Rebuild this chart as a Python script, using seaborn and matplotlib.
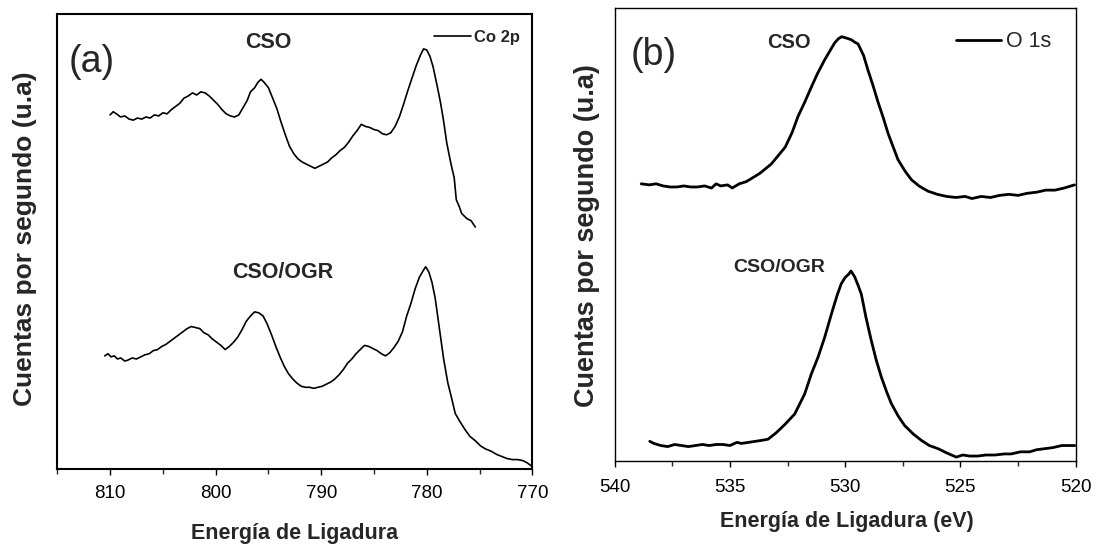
import numpy as np
import pandas as pd
import matplotlib
matplotlib.use("Agg")
import matplotlib.pyplot as plt
from matplotlib import font_manager
from matplotlib.ticker import MultipleLocator
import seaborn as sns

# ---------------- data (a.u.) ----------------
co_cso_e = [810.0, 809.7, 809.4, 809.0, 808.6, 808.2, 807.8, 807.4, 807.0, 806.6, 806.2, 805.8, 805.4,
            805.0, 804.6, 804.2, 803.8, 803.4, 803.0, 802.6, 802.2, 801.8, 801.4, 801.0, 800.6, 800.2,
            799.8, 799.4, 799.0, 798.6, 798.2, 797.8, 797.4, 797.0, 796.7, 796.3, 796.0, 795.7, 795.4,
            795.0, 794.6, 794.2, 793.8, 793.4, 793.0, 792.6, 792.2, 791.8, 791.4, 791.0, 790.6, 790.2,
            789.8, 789.4, 789.0, 788.6, 788.2, 787.8, 787.4, 787.0, 786.6, 786.2, 785.8, 785.4, 785.0,
            784.6, 784.2, 783.8, 783.4, 783.0, 782.6, 782.2, 781.8, 781.4, 781.0, 780.6, 780.3, 780.0,
            779.7, 779.4, 779.0, 778.7, 778.4, 778.1, 777.7, 777.4, 777.2, 776.9, 776.7, 776.4, 776.2,
            775.8, 775.4]
co_cso_i = [338, 341, 339, 336, 337, 334, 333, 335, 334, 336, 335, 338, 337,
            340, 339, 343, 346, 349, 354, 356, 359, 357, 360, 359, 356, 352,
            348, 343, 339, 337, 336, 338, 345, 352, 360, 364, 369, 372, 369,
            364, 354, 344, 331, 319, 308, 301, 296, 293, 291, 289, 287, 289,
            291, 293, 297, 300, 304, 307, 312, 318, 323, 329, 327, 326, 324,
            323, 320, 319, 321, 327, 336, 348, 361, 373, 385, 395, 401, 400,
            394, 384, 365, 350, 332, 311, 291, 278, 257, 250, 244, 241, 239,
            237, 231]

co_ogr_e = [810.5, 810.2, 809.9, 809.6, 809.3, 809.0, 808.6, 808.3, 807.9, 807.5, 807.1, 806.7, 806.3,
            805.9, 805.5, 805.1, 804.7, 804.3, 803.9, 803.5, 803.1, 802.7, 802.3, 801.9, 801.5, 801.1,
            800.7, 800.3, 799.9, 799.5, 799.1, 798.7, 798.3, 797.9, 797.5, 797.1, 796.7, 796.3, 795.9,
            795.5, 795.1, 794.7, 794.3, 793.9, 793.5, 793.1, 792.7, 792.3, 791.9, 791.5, 791.1, 790.7,
            790.3, 789.9, 789.5, 789.1, 788.7, 788.3, 787.9, 787.5, 787.1, 786.7, 786.3, 785.9, 785.5,
            785.1, 784.7, 784.3, 783.9, 783.5, 783.1, 782.7, 782.3, 781.9, 781.5, 781.1, 780.7, 780.3,
            780.1, 779.8, 779.5, 779.2, 778.8, 778.4, 778.0, 777.7, 777.3, 776.9, 776.4, 775.9, 775.4,
            774.9, 774.4, 773.9, 773.4, 772.9, 772.4, 771.9, 771.4, 770.9, 770.5, 770.1]
co_ogr_i = [108, 110, 107, 108, 105, 106, 103, 104, 106, 105, 107, 109, 110,
            113, 114, 117, 119, 122, 125, 128, 131, 134, 136, 135, 134, 130,
            128, 124, 121, 118, 114, 117, 121, 126, 133, 141, 146, 150, 149,
            146, 138, 128, 117, 107, 98, 91, 86, 82, 79, 78, 78, 77,
            78, 79, 81, 83, 86, 90, 95, 101, 105, 110, 114, 118, 117,
            115, 113, 110, 108, 111, 116, 122, 131, 146, 158, 172, 183, 190,
            193, 188, 178, 163, 134, 105, 82, 70, 53, 46, 38, 31, 27,
            22, 19, 17, 14, 12, 10, 9, 9, 8, 6, 3]

o_cso_e = [538.85, 538.5, 538.2, 537.9, 537.6, 537.3, 537.0, 536.7, 536.4, 536.1, 535.8, 535.6, 535.4,
           535.1, 534.9, 534.6, 534.3, 534.07, 533.7, 533.2, 532.9, 532.6, 532.3, 532.05, 531.75, 531.47,
           531.2, 530.89, 530.65, 530.46, 530.3, 530.15, 530.0, 529.85, 529.73, 529.6, 529.44, 529.2,
           529.01, 528.8, 528.58, 528.35, 528.14, 527.9, 527.71, 527.4, 527.13, 526.8, 526.41, 526.0,
           525.6, 525.2, 524.8, 524.5, 524.1, 523.7, 523.3, 522.9, 522.5, 522.1, 521.7, 521.3, 520.9,
           520.5, 520.05]
o_cso_i = [264, 263, 264, 262, 261, 261, 262, 261, 261, 262, 260, 264, 262,
           263, 260, 264, 266, 269, 274, 283, 291, 299, 313, 328, 342, 356,
           369, 382, 391, 398, 402, 404, 403, 402, 401, 399, 397, 386,
           372, 358, 342, 327, 312, 298, 287, 276, 268, 262, 257, 254,
           252, 251, 252, 250, 252, 251, 253, 254, 253, 255, 256, 258, 258,
           260, 263]

o_ogr_e = [538.48, 538.3, 538.0, 537.7, 537.4, 537.1, 536.8, 536.5, 536.2, 535.9, 535.6, 535.3, 535.0,
           534.7, 534.5, 534.2, 533.9, 533.6, 533.35, 533.0, 532.62, 532.19, 531.76, 531.47, 531.18,
           530.89, 530.6, 530.35, 530.17, 530.0, 529.85, 529.75, 529.6, 529.45, 529.3, 529.1, 528.87,
           528.65, 528.43, 528.2, 528.0, 527.7, 527.42, 527.05, 526.7, 526.35, 525.97, 525.6, 525.18,
           524.9, 524.6, 524.24, 523.9, 523.5, 523.1, 522.8, 522.4, 522.0, 521.7, 521.35, 521.0, 520.6,
           520.3, 520.04]
o_ogr_i = [19, 17, 15, 14, 16, 15, 14, 15, 16, 15, 16, 16, 15,
           18, 17, 18, 19, 20, 21, 27, 35, 45, 64, 83, 99,
           118, 140, 158, 169, 175, 178, 181, 176, 168, 159, 137, 115,
           96, 80, 66, 55, 43, 34, 26, 20, 15, 12, 8, 4,
           6, 5, 5, 6, 6, 7, 7, 9, 9, 11, 12, 13, 15,
           15, 15]

co_xticks = [810, 800, 790, 780, 770]
o_xticks = [540, 535, 530, 525, 520]

# ---------------- style ----------------
sns.set_style("ticks")
names = {f.name for f in font_manager.fontManager.ttflist}
HAS_NARROW = "Liberation Sans Narrow" in names
NARROW = "Liberation Sans Narrow" if HAS_NARROW else "Liberation Sans"
k = 1.12 if HAS_NARROW else 1.0
FAM = [NARROW, "DejaVu Sans"]
plt.rcParams["font.family"] = FAM

W, H = 1098, 548
fig = plt.figure(figsize=(W / 100, H / 100), dpi=100)


def box(x0, y0, x1, y1):
    return [x0 / W, 1 - y1 / H, (x1 - x0) / W, (y1 - y0) / H]


def fp(x, y):
    return x / W, 1 - y / H


axA = fig.add_axes(box(57.3, 14, 532.3, 469))
axB = fig.add_axes(box(614.7, 8.3, 1075.7, 461.3))

dfA = pd.concat([
    pd.DataFrame({"E": co_cso_e, "I": co_cso_i, "s": "CSO"}),
    pd.DataFrame({"E": co_ogr_e, "I": co_ogr_i, "s": "CSO/OGR"}),
])
dfB = pd.concat([
    pd.DataFrame({"E": o_cso_e, "I": o_cso_i, "s": "CSO"}),
    pd.DataFrame({"E": o_ogr_e, "I": o_ogr_i, "s": "CSO/OGR"}),
])

sns.lineplot(data=dfA, x="E", y="I", units="s", estimator=None, color="black",
             linewidth=1.2, ax=axA, legend=False)
sns.lineplot(data=dfB, x="E", y="I", units="s", estimator=None, color="black",
             linewidth=2.0, ax=axB, legend=False)

for ax, xl, yl, ticks, major, minor, slw, pad in [
    (axA, (815, 770), (0, 434.3), co_xticks, 10, 5, 1.5, 7),
    (axB, (540, 520), (0, 431), o_xticks, 5, 2.5, 1.0, 8),
]:
    ax.set_xlim(*xl)
    ax.set_ylim(*yl)
    ax.set_yticks([])
    ax.xaxis.set_major_locator(MultipleLocator(major))
    ax.xaxis.set_minor_locator(MultipleLocator(minor))
    ax.set_xticks(ticks)
    ax.set_xticklabels([str(t) for t in ticks])
    ax.tick_params(axis="x", which="major", direction="out", length=4.5, width=1.0,
                   labelsize=13.5 * k, pad=pad, colors="black")
    ax.tick_params(axis="x", which="minor", direction="out", length=3.5, width=1.0)
    ax.set_xlabel("")
    ax.set_ylabel("")
    for sp in ax.spines.values():
        sp.set_visible(True)
        sp.set_linewidth(slw)
        sp.set_color("black")

# legends
hA = axA.lines[0]
axA.legend([hA], ["Co 2p"], loc="center right", bbox_to_anchor=(0.974, 0.949),
           frameon=False, borderpad=0, borderaxespad=0, handlelength=2.2,
           handletextpad=0.2, prop={"family": FAM, "weight": "bold", "size": 12 * k})
hB = axB.lines[0]
axB.legend([hB], ["O 1s"], loc="center right", bbox_to_anchor=(0.946, 0.926),
           frameon=False, borderpad=0, borderaxespad=0, handlelength=2.1,
           handletextpad=0.2, prop={"family": FAM, "size": 15.5 * k})

# texts
fig.text(*fp(92, 62), "(a)", fontsize=27 * k, ha="center", va="center")
fig.text(*fp(654, 55), "(b)", fontsize=27 * k, ha="center", va="center")
fig.text(*fp(268, 42), "CSO", fontsize=15.5 * k, fontweight="bold", ha="center", va="center")
fig.text(*fp(283, 272), "CSO/OGR", fontsize=15.5 * k, fontweight="bold", ha="center", va="center")
fig.text(*fp(789, 42), "CSO", fontsize=14.5 * k, fontweight="bold", ha="center", va="center")
fig.text(*fp(779, 267), "CSO/OGR", fontsize=14 * k, fontweight="bold", ha="center", va="center")

fig.text(*fp(295, 533), "Energía de Ligadura", fontsize=15.5 * k, fontweight="bold",
         ha="center", va="center")
fig.text(*fp(847, 521), "Energía de Ligadura (eV)", fontsize=15.5 * k, fontweight="bold",
         ha="center", va="center")
fig.text(*fp(25, 239), "Cuentas por segundo (u.a)", fontsize=19, fontweight="bold",
         family=["Liberation Sans", "DejaVu Sans"], rotation=90, ha="center", va="center")
fig.text(*fp(587, 236), "Cuentas por segundo (u.a)", fontsize=19.5, fontweight="bold",
         family=["Liberation Sans", "DejaVu Sans"], rotation=90, ha="center", va="center")

fig.savefig("out.png", dpi=100, facecolor="white")
